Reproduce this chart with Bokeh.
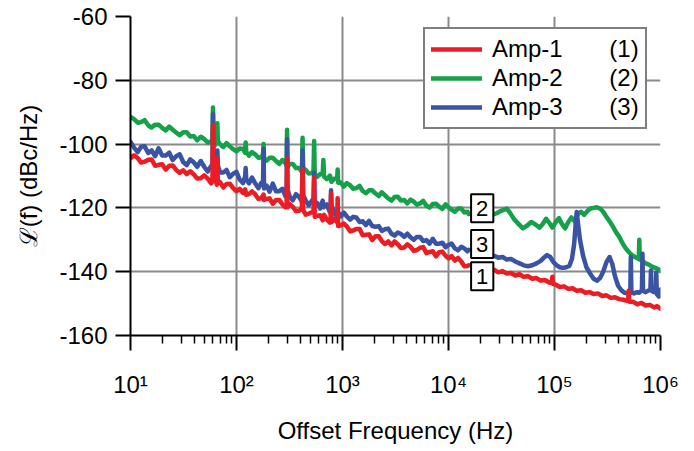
from bokeh.plotting import figure
from bokeh.models import FixedTicker, Range1d, Legend, LegendItem, Label
from bokeh.embed import file_html
from bokeh.resources import INLINE

# ---- sweep below the segment break (shared analyzer bins, Hz) ----
freq_lo = [10, 10.8, 11.7, 12.6, 13.6, 14.7, 15.8, 17.1, 18.4, 19.9, 21.5, 23.2, 25.0, 27.0,
           29.1, 31.4, 33.9, 36.6, 39.5, 42.6, 46.0, 49.6, 53.5, 57.5, 59.3, 60, 60.7, 63,
           65.3, 66, 66.7, 70, 75, 80.5, 86.5, 93, 100, 107, 115, 120.5, 122, 123.5, 131,
           140, 150, 161, 172, 178, 180, 182, 192, 205, 220, 236, 253, 271, 290, 297, 300,
           303, 318, 340, 364, 390, 414, 420, 426, 450, 480, 520, 533, 540, 547, 575, 615,
           650, 660, 670, 710, 760, 772, 780, 788, 830, 890, 900, 910, 960, 1030, 1100, 1180,
           1260, 1350, 1450, 1550, 1660, 1780, 1910, 2050, 2200, 2350, 2520, 2700, 2900,
           3100, 3320, 3560, 3820, 4090, 4380, 4700, 5030, 5390, 5780, 6190, 6640, 7110,
           7620, 8170, 8750, 9380, 10000, 10700, 11500, 12300, 13200, 14100, 15100, 15500]

amp2_lo = [-91.5, -92.2, -93.3, -93.1, -92.5, -94.1, -94.8, -93.9, -93.9, -94.9, -95.7, -94.5,
           -95.5, -96.4, -97.2, -96.3, -96.3, -97.6, -97.5, -98.8, -97.7, -98.4, -99.5, -99.2,
           -98.4, -88.5, -99.8, -100.3, -99.3, -93.5, -99.1, -100.0, -100.9, -99.7, -100.7,
           -101.6, -102.3, -101.4, -101.5, -102.7, -99.5, -102.4, -103.6, -102.5, -103.2,
           -104.3, -104.1, -103.2, -100.0, -104.6, -105.2, -104.3, -104.3, -105.3, -106.2,
           -105.0, -106.0, -106.7, -95.5, -107.2, -106.2, -106.2, -107.5, -107.5, -108.7,
           -98.0, -107.5, -108.1, -109.2, -109.1, -108.2, -99.0, -109.6, -110.3, -109.4,
           -109.3, -105.0, -110.2, -111.0, -109.9, -110.7, -111.3, -111.8, -110.9, -110.9,
           -108.0, -112.1, -112.0, -113.3, -112.2, -112.9, -114.0, -113.8, -113.1, -114.7,
           -115.4, -114.5, -114.5, -115.5, -116.3, -115.1, -116.1, -117.0, -117.7, -116.6,
           -116.5, -117.7, -117.5, -118.6, -117.4, -118.0, -119.0, -118.6, -117.8, -119.3,
           -119.9, -118.8, -118.7, -119.6, -120.3, -118.9, -119.8, -120.6, -121.2, -120.2,
           -120.2, -121.4, -121.2, -121.9]

amp3_lo = [-99.3, -101.1, -102.5, -100.8, -100.7, -102.8, -102.0, -103.8, -101.3, -103.6,
           -103.6, -102.7, -105.0, -103.8, -103.2, -105.6, -106.6, -104.8, -105.7, -107.1,
           -105.3, -107.1, -108.6, -106.9, -106.6, -90.5, -108.6, -107.7, -109.4, -102.0,
           -106.7, -108.9, -108.9, -108.1, -110.4, -109.3, -108.7, -111.1, -112.2, -110.2,
           -107.5, -111.0, -112.3, -110.5, -112.3, -113.8, -112.1, -111.9, -101.5, -113.9,
           -113.0, -114.9, -112.4, -114.8, -114.8, -114.0, -116.4, -115.0, -98.5, -114.2,
           -116.5, -117.6, -115.7, -116.6, -118.0, -102.0, -116.0, -117.7, -119.2, -117.5,
           -117.2, -109.0, -119.3, -118.4, -120.2, -117.7, -119.8, -119.6, -118.9, -121.3,
           -119.9, -114.5, -119.1, -121.6, -122.7, -120.6, -121.3, -122.7, -121.5, -122.7,
           -123.7, -122.8, -123.0, -124.4, -124.2, -125.4, -124.1, -125.7, -125.9, -125.7,
           -127.2, -126.7, -126.5, -128.1, -128.7, -127.7, -128.2, -129.1, -128.1, -129.2,
           -130.0, -129.1, -129.1, -130.4, -130.1, -131.2, -129.7, -131.2, -131.2, -130.9,
           -132.3, -131.6, -131.2, -132.7, -133.3, -132.2, -132.7, -133.6, -133.2]

amp1_lo = [-104.4, -103.5, -104.4, -105.8, -105.5, -104.9, -104.8, -106.8, -106.5, -106.3,
           -108.0, -106.8, -106.7, -108.1, -109.0, -108.2, -109.4, -108.5, -109.5, -110.8,
           -110.7, -109.8, -110.8, -112.3, -111.8, -94.0, -111.0, -110.8, -112.7, -104.5,
           -112.2, -111.9, -113.6, -112.5, -112.4, -113.8, -114.8, -114.0, -115.3, -114.2,
           -114.8, -115.9, -115.7, -114.8, -115.7, -117.2, -116.9, -116.1, -115.8, -117.5,
           -117.2, -117.0, -118.7, -117.5, -117.5, -118.9, -119.8, -118.8, -104.5, -119.8,
           -118.8, -119.7, -121.0, -120.9, -120.0, -108.0, -120.7, -122.1, -121.8, -121.3,
           -121.0, -110.5, -122.8, -122.5, -122.3, -123.9, -122.5, -122.2, -123.6, -124.6,
           -123.5, -115.5, -124.5, -123.5, -124.5, -117.0, -125.7, -125.5, -124.9, -125.8,
           -127.3, -127.1, -126.6, -126.6, -128.6, -128.4, -128.3, -130.1, -128.9, -128.9,
           -130.4, -131.3, -130.5, -131.7, -130.5, -131.4, -132.6, -132.4, -131.4, -132.2,
           -133.5, -133.2, -132.5, -132.3, -134.2, -133.8, -133.6, -135.2, -133.9, -133.7,
           -135.0, -135.8, -135.1, -136.5, -135.7, -136.8, -138.3, -138.2, -138.0]

# ---- sweep above the segment break (Hz) ----
amp2_hi_f = [26900, 28800, 30900, 33100, 35500, 38500, 41700, 45700, 50100, 55000, 60300,
             66100, 72400, 77600, 83200, 89100, 95500, 102000, 110000, 117500, 126000,
             135000, 144500, 155000, 166000, 178000, 190500, 204000, 219000, 234000, 251000,
             269000, 288000, 309000, 331000, 355000, 380000, 407000, 437000, 468000, 501000,
             537000, 575000, 624000, 631000, 638000, 676000, 724000, 776000, 832000, 891000,
             955000, 1000000]
amp2_hi = [-122.0, -121.6, -121.0, -120.6, -120.2, -121.8, -123.6, -125.0, -126.4, -125.6,
           -124.4, -125.2, -126.2, -125.0, -123.4, -124.6, -126.2, -124.6, -123.2, -125.0,
           -126.4, -124.4, -123.0, -124.2, -122.0, -121.2, -122.2, -121.0, -120.2, -120.0,
           -119.8, -120.2, -121.2, -122.8, -124.2, -125.8, -127.6, -129.0, -131.0, -132.6,
           -133.8, -134.8, -135.4, -136.0, -130.0, -136.2, -136.6, -137.4, -137.8, -138.4,
           -138.8, -139.2, -139.8]

amp3_hi_f = [26900, 29500, 32400, 35500, 38900, 42700, 46800, 51300, 56200, 61700, 67600,
             74100, 79400, 85100, 91200, 97700, 105000, 112000, 120000, 129000, 138000,
             146000, 153000, 158500, 162000, 166000, 174000, 186000, 200000, 219000, 234000,
             251000, 269000, 288000, 309000, 331000, 351000, 372000, 398000, 427000, 457000,
             490000, 519000, 525000, 531000, 562000, 603000, 631000, 668000, 676000, 684000,
             724000, 759000, 803000, 813000, 822000, 871000, 902000, 912000, 923000, 966000,
             1000000]
amp3_hi = [-135.0, -135.6, -135.4, -136.2, -136.0, -136.8, -137.4, -138.0, -138.3, -138.0,
           -137.4, -136.6, -135.6, -134.8, -135.4, -137.0, -138.0, -138.6, -138.8, -138.6,
           -138.2, -136.0, -131.5, -125.0, -121.3, -124.5, -130.0, -135.0, -138.6, -140.8,
           -142.2, -142.8, -142.0, -140.0, -137.0, -135.4, -137.6, -141.4, -144.4, -145.8,
           -146.6, -146.8, -146.6, -135.4, -146.4, -146.8, -146.4, -146.6, -145.8, -134.4,
           -146.0, -146.4, -146.0, -145.6, -139.6, -146.0, -146.4, -146.4, -140.3, -147.0,
           -147.8, -145.6]

amp1_hi_f = [26900, 29500, 32400, 35500, 38900, 42700, 46800, 51300, 56200, 61700, 67600,
             74100, 81300, 89100, 94400, 95500, 96600, 102000, 112000, 123000, 135000,
             148000, 162000, 178000, 195000, 214000, 234000, 257000, 282000, 309000, 339000,
             372000, 407000, 447000, 495000, 501000, 507000, 550000, 603000, 661000, 724000,
             794000, 871000, 933000, 1000000]
amp1_hi = [-139.4, -140.2, -139.8, -140.6, -140.4, -141.2, -140.8, -141.6, -141.4, -142.2,
           -142.0, -142.8, -142.6, -143.4, -143.6, -141.6, -143.8, -144.0, -144.8, -144.6,
           -145.4, -145.2, -146.0, -145.8, -146.6, -146.4, -147.0, -146.8, -147.6, -147.4,
           -148.2, -148.0, -148.6, -148.8, -149.2, -146.0, -149.4, -149.4, -150.2, -149.8,
           -150.6, -150.4, -151.2, -150.8, -151.6]

series_names = ["Amp-1", "Amp-2", "Amp-3"]
series_tags = ["(1)", "(2)", "(3)"]
series_colors = ["#ec1c24", "#15a04a", "#3a53a4"]

x_ticks = [10, 100, 1000, 10000, 100000, 1000000]
x_tick_labels = ["10¹", "10²", "10³", "10⁴", "10⁵", "10⁶"]
y_ticks = [-160, -140, -120, -100, -80, -60]
y_tick_labels = ["-160", "-140", "-120", "-100", "-80", "-60"]

# trace number tags placed in the break of the sweep
tag_freq = 20800
tag_levels = [-141.4, -120.1, -131.3]

FONT = "Liberation Sans"

p = figure(width=694, height=451, x_axis_type="log",
           x_range=Range1d(10, 1e6), y_range=Range1d(-160, -60),
           output_backend="svg", toolbar_location=None,
           min_border_left=130, min_border_right=34, min_border_top=16,
           min_border_bottom=116)
p.outline_line_color = None
p.background_fill_color = "white"
p.border_fill_color = "white"

# grid
p.xgrid.ticker = FixedTicker(ticks=x_ticks)
p.ygrid.ticker = FixedTicker(ticks=y_ticks)
for g in (p.xgrid, p.ygrid):
    g.grid_line_color = "#8a8a8a"
    g.grid_line_width = 2

# axes
minor = [m * d for d in x_ticks[:-1] for m in range(2, 10)]
p.xaxis.ticker = FixedTicker(ticks=x_ticks, minor_ticks=minor)
p.xaxis.major_label_overrides = dict(zip(x_ticks, x_tick_labels))
p.yaxis.ticker = FixedTicker(ticks=y_ticks)
p.yaxis.major_label_overrides = dict(zip(y_ticks, y_tick_labels))
for ax in (p.xaxis, p.yaxis):
    ax.axis_line_color = "black"
    ax.axis_line_width = 2
    ax.major_tick_line_color = "black"
    ax.major_tick_line_width = 2
    ax.major_tick_in = 0
    ax.major_tick_out = 15
    ax.major_label_text_font = FONT
    ax.major_label_text_font_size = "24px"
    ax.major_label_text_color = "black"
    ax.axis_label_text_font = FONT
    ax.axis_label_text_font_size = "24px"
    ax.axis_label_text_font_style = "normal"
    ax.axis_label_text_color = "black"
p.xaxis.minor_tick_line_color = "black"
p.xaxis.minor_tick_line_width = 1.5
p.xaxis.minor_tick_in = 0
p.xaxis.minor_tick_out = 8
p.yaxis.minor_tick_line_color = None
p.xaxis.major_label_standoff = 20
p.yaxis.major_label_standoff = 8
p.xaxis.axis_label = "Offset Frequency (Hz)"
p.yaxis.axis_label = "ℒ(f) (dBc/Hz)"
p.xaxis.axis_label_standoff = 16
p.yaxis.axis_label_standoff = 14

kw = dict(line_width=4.5, line_join="round", line_cap="round")
g_lo = p.line(freq_lo, amp2_lo, line_color=series_colors[1], **kw)
g_hi = p.line(amp2_hi_f, amp2_hi, line_color=series_colors[1], **kw)
b_lo = p.line(freq_lo, amp3_lo, line_color=series_colors[2], **kw)
b_hi = p.line(amp3_hi_f, amp3_hi, line_color=series_colors[2], **kw)
r_lo = p.line(freq_lo, amp1_lo, line_color=series_colors[0], **kw)
r_hi = p.line(amp1_hi_f, amp1_hi, line_color=series_colors[0], **kw)

# legend entries: name, a gap of no-break spaces, then the trace number
gap = "\u00a0" * 7
entries = [name + gap + tag for name, tag in zip(series_names, series_tags)]
legend = Legend(
    items=[LegendItem(label=entries[0], renderers=[r_lo]),
           LegendItem(label=entries[1], renderers=[g_lo]),
           LegendItem(label=entries[2], renderers=[b_lo])],
    location=(293, 206), orientation="vertical",
    label_text_font=FONT, label_text_font_size="24px", label_text_color="black",
    glyph_width=51, glyph_height=20, label_standoff=10, label_width=145,
    padding=6, spacing=1, margin=0,
    border_line_color="black", border_line_width=2,
    background_fill_color="white", background_fill_alpha=1.0)
p.add_layout(legend)

for tag, lvl in zip(["1", "2", "3"], tag_levels):
    p.add_layout(Label(x=tag_freq, y=lvl, text=tag, text_align="center",
                       text_baseline="middle", text_font=FONT, text_font_size="22px",
                       text_color="black", border_line_color="black",
                       border_line_width=2, background_fill_color="white",
                       padding=dict(left=5, right=5, top=7, bottom=6)))

open("out.html", "w").write(file_html(p, INLINE))
